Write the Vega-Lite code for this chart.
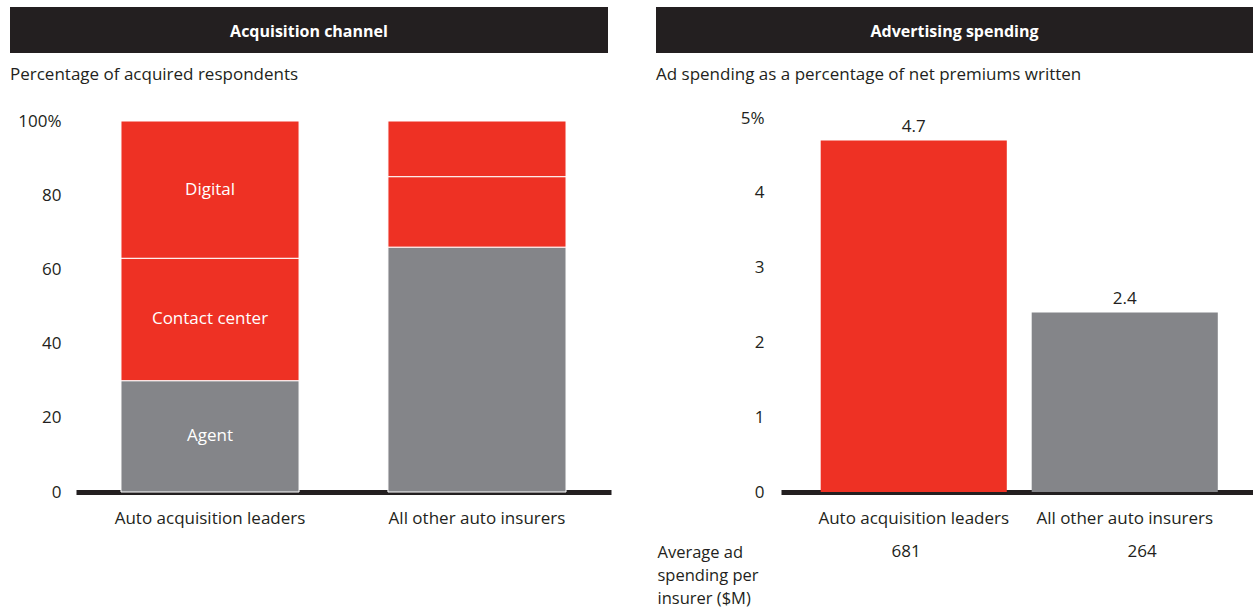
{
  "$schema": "https://vega.github.io/schema/vega-lite/v6.json",
  "padding": {"left": 10, "top": 7, "right": 0, "bottom": 0},
  "spacing": 45,
  "resolve": {"scale": {"color": "independent"}},
  "config": {
    "view": {"stroke": null},
    "font": "Open Sans",
    "axis": {"labelFontSize": 17, "labelColor": "#231f20", "labelFont": "Open Sans", "grid": false, "ticks": false, "tickSize": 0, "labelLimit": 400},
    "title": {"fontSize": 17, "fontWeight": "normal", "color": "#231f20", "anchor": "start", "frame": "bounds"}
  },
  "hconcat": [
    {
      "spacing": 13,
      "vconcat": [
        {
          "width": 598,
          "height": 46,
          "data": {"values": [{"title": "Acquisition channel"}]},
          "layer": [
            {"mark": {"type": "rect", "color": "#231f20"}, "encoding": {}},
            {"mark": {"type": "text", "color": "white", "fontWeight": "bold", "fontSize": 16, "dy": 2}, "encoding": {"text": {"field": "title"}}}
          ]
        },
        {
          "width": 601,
          "height": 371,
          "title": {"text": "Percentage of acquired respondents", "offset": 28},
          "data": {"values": [
            {"group": "Auto acquisition leaders", "channel": "Agent", "share": 30, "order": 1},
            {"group": "Auto acquisition leaders", "channel": "Contact center", "share": 33, "order": 2},
            {"group": "Auto acquisition leaders", "channel": "Digital", "share": 37, "order": 3},
            {"group": "All other auto insurers", "channel": "Agent", "share": 66, "order": 1},
            {"group": "All other auto insurers", "channel": "Contact center", "share": 19, "order": 2},
            {"group": "All other auto insurers", "channel": "Digital", "share": 15, "order": 3}
          ]},
          "transform": [{"stack": "share", "groupby": ["group"], "sort": [{"field": "order", "order": "ascending"}], "as": ["y0", "y1"]}],
          "encoding": {
            "x": {"field": "group", "type": "nominal", "sort": null,
              "scale": {"range": [66, 601], "paddingInner": 0.333, "paddingOuter": 0.1685},
              "axis": {"title": null, "labelAngle": 0, "domainWidth": 5, "domainColor": "#231f20", "labelPadding": 18, "labelBaseline": "top"}}
          },
          "layer": [
            {"mark": {"type": "bar", "stroke": "white", "strokeWidth": 1},
             "encoding": {
               "y": {"field": "y0", "type": "quantitative", "scale": {"domain": [0, 100]},
                 "axis": {"title": null, "domain": false, "values": [0, 20, 40, 60, 80, 100], "labelPadding": 15, "offset": -66, "minExtent": 0, "maxExtent": 0,
                   "labelExpr": "datum.value == 100 ? datum.label + '%' : datum.label"}},
               "y2": {"field": "y1"},
               "color": {"field": "channel", "type": "nominal", "scale": {"domain": ["Agent", "Contact center", "Digital"], "range": ["#848589", "#ee3124", "#ee3124"]}, "legend": null}}},
            {"transform": [
               {"filter": "datum.group == 'Auto acquisition leaders'"},
               {"fold": ["y0", "y1"], "as": ["edge", "level"]}
             ],
             "mark": {"type": "text", "color": "white", "fontSize": 17},
             "encoding": {
               "y": {"aggregate": "mean", "field": "level", "type": "quantitative"},
               "text": {"field": "channel"}}}
          ]
        }
      ]
    },
    {
      "spacing": 13,
      "vconcat": [
        {
          "width": 597,
          "height": 46,
          "data": {"values": [{"title": "Advertising spending"}]},
          "layer": [
            {"mark": {"type": "rect", "color": "#231f20"}, "encoding": {}},
            {"mark": {"type": "text", "color": "white", "fontWeight": "bold", "fontSize": 16, "dy": 2}, "encoding": {"text": {"field": "title"}}}
          ]
        },
        {
          "spacing": 17,
          "vconcat": [
            {
              "width": 597,
              "height": 374,
              "title": {"text": "Ad spending as a percentage of net premiums written", "offset": 25},
              "data": {"values": [
                {"group": "Auto acquisition leaders", "pct": 4.7},
                {"group": "All other auto insurers", "pct": 2.4}
              ]},
              "encoding": {
                "x": {"field": "group", "type": "nominal", "sort": null,
                  "scale": {"range": [125, 597], "paddingInner": 0.118, "paddingOuter": 0.1775, "align": 0.53},
                  "axis": {"title": null, "labelAngle": 0, "domainWidth": 5, "domainColor": "#231f20", "labelPadding": 18, "labelBaseline": "top"}},
                "y": {"field": "pct", "type": "quantitative", "scale": {"domain": [0, 5]},
                  "axis": {"title": null, "domain": false, "values": [0, 1, 2, 3, 4, 5], "labelPadding": 17, "offset": -125, "minExtent": 0, "maxExtent": 0,
                    "labelExpr": "datum.value == 5 ? datum.label + '%' : datum.label"}}
              },
              "layer": [
                {"mark": {"type": "bar"},
                 "encoding": {"color": {"field": "group", "type": "nominal", "scale": {"domain": ["Auto acquisition leaders", "All other auto insurers"], "range": ["#ee3124", "#848589"]}, "legend": null}}},
                {"mark": {"type": "text", "baseline": "bottom", "dy": -4, "fontSize": 17, "color": "#231f20"},
                 "encoding": {"text": {"field": "pct", "type": "quantitative", "format": ".1f"}}}
              ]
            },
            {
              "width": 597,
              "height": 2,
              "data": {"values": [
                {"group": "Auto acquisition leaders", "metric": "Average ad spending per insurer ($M)", "spend": 681},
                {"group": "All other auto insurers", "metric": "Average ad spending per insurer ($M)", "spend": 264}
              ]},
              "mark": {"type": "text", "baseline": "top", "fontSize": 17, "color": "#231f20"},
              "encoding": {
                "x": {"field": "group", "type": "nominal", "sort": null,
                  "scale": {"range": [125, 597], "paddingInner": 0.118, "paddingOuter": 0.1775, "align": 0.53}, "axis": null},
                "y": {"field": "metric", "type": "nominal", "bandPosition": 0,
                  "scale": {"type": "band", "paddingInner": 0, "paddingOuter": 0},
                  "axis": {"title": null, "domain": false, "bandPosition": 0, "labelAlign": "left", "labelBaseline": "top", "labelPadding": 0, "offset": -1, "minExtent": 0, "maxExtent": 0,
                    "labelFontSize": 16.5, "labelLineHeight": 23, "labelExpr": "['Average ad', 'spending per', 'insurer ($M)']"}},
                "text": {"field": "spend", "type": "quantitative"}
              }
            }
          ]
        }
      ]
    }
  ]
}
